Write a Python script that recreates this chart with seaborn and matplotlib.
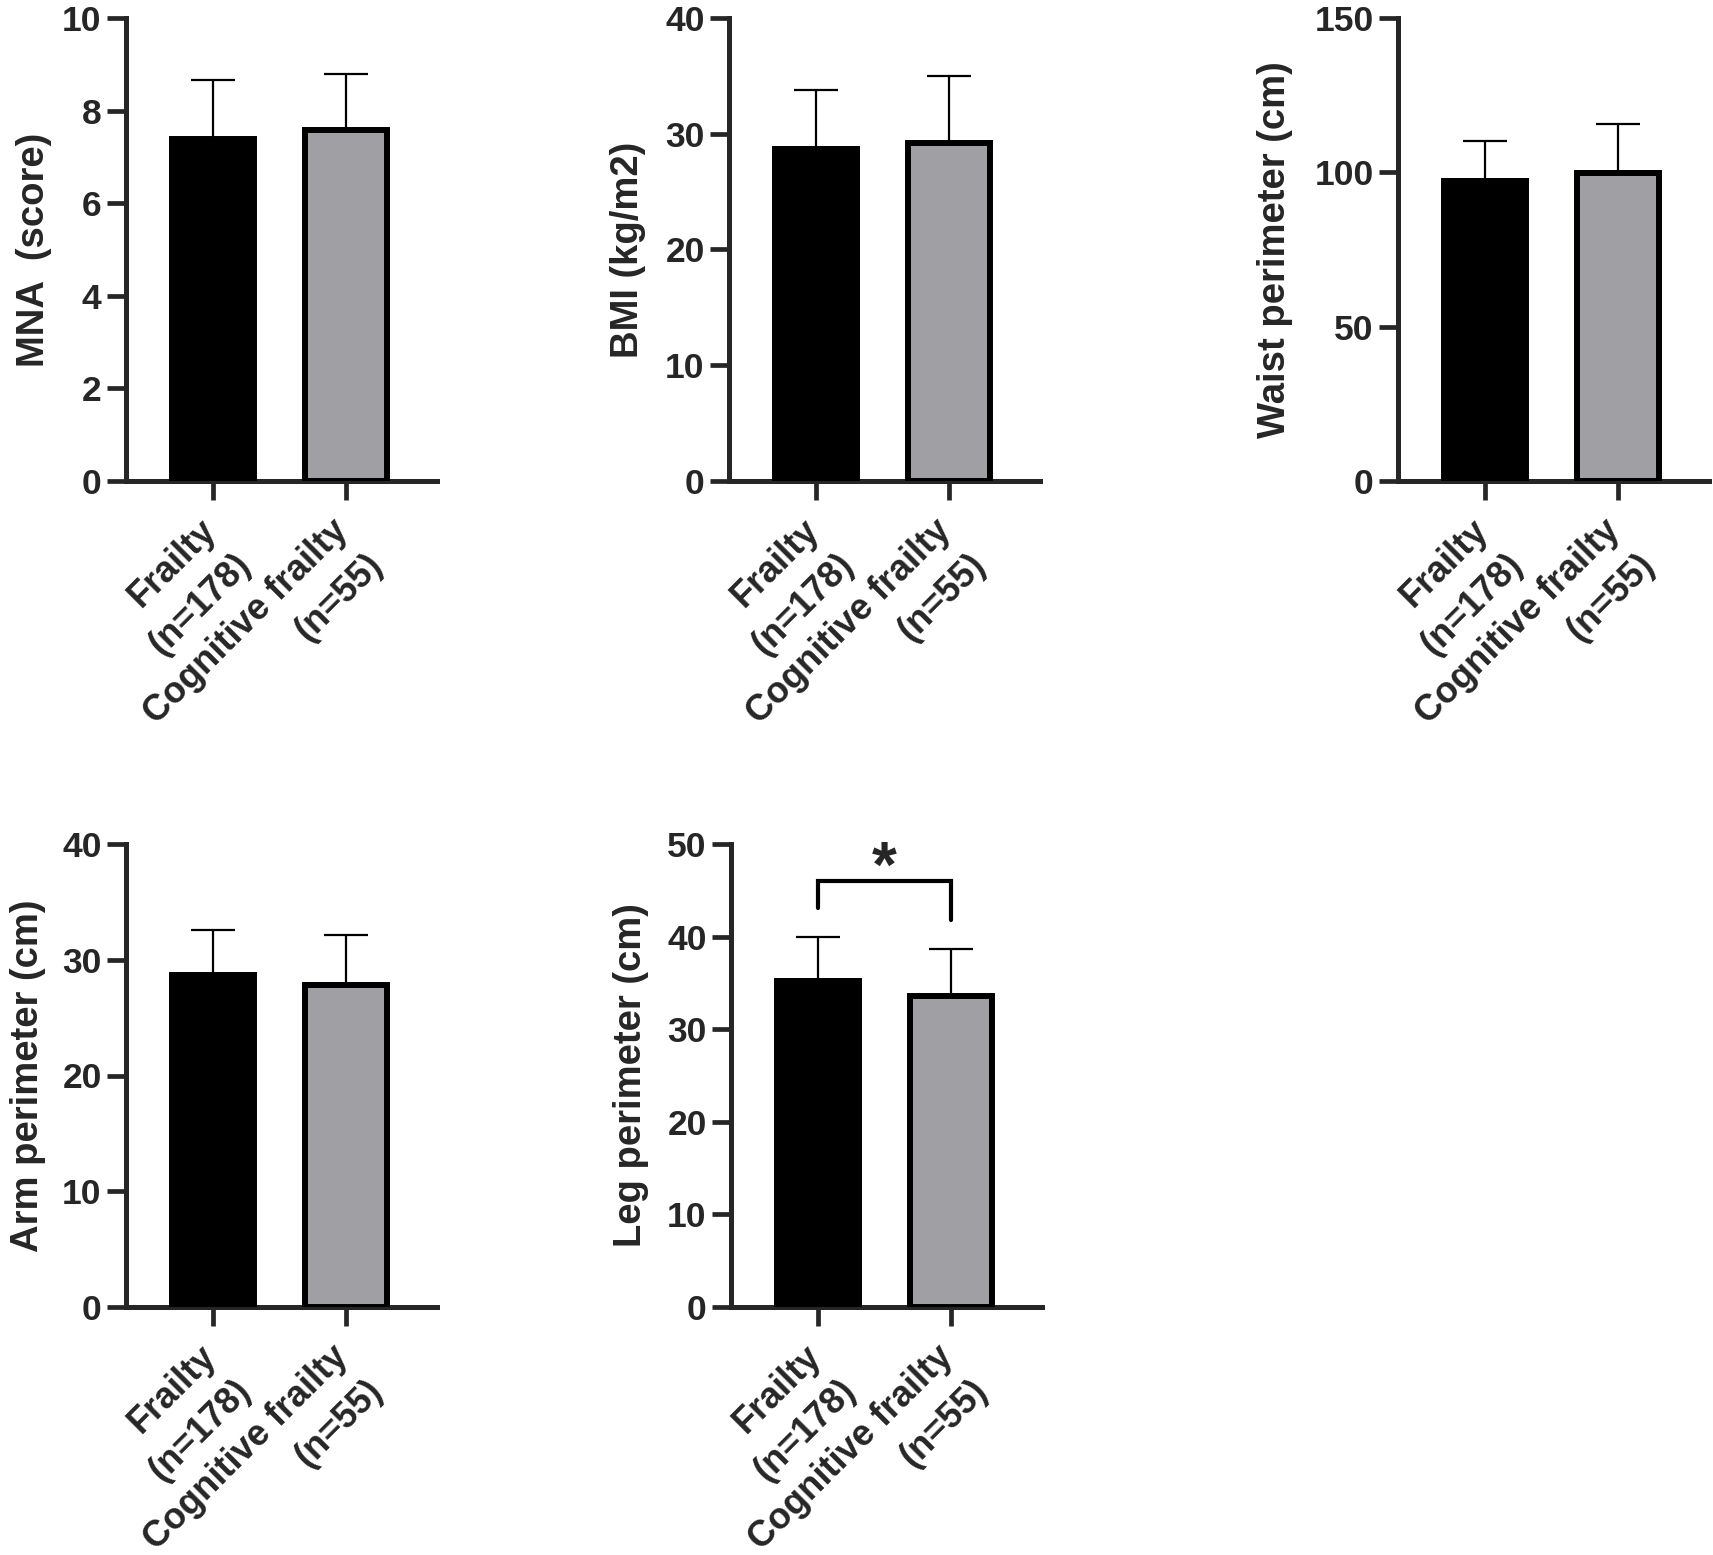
import numpy as np
import pandas as pd
import matplotlib
matplotlib.use("Agg")
import matplotlib.pyplot as plt
import matplotlib.transforms as mtransforms
import seaborn as sns

# groups (x categories)
groups = ["Frailty\n(n=178)", "Cognitive frailty\n(n=55)"]
bar_colors = ["#000000", "#A0A0A4"]

# mean and SD per variable
mna_mean = [7.38, 7.59]
mna_sd = [1.29, 1.21]
bmi_mean = [28.7, 29.2]
bmi_sd = [5.1, 5.8]
waist_mean = [97.2, 99.9]
waist_sd = [13.1, 15.6]
arm_mean = [28.7, 27.8]
arm_sd = [3.9, 4.3]
leg_mean = [35.2, 33.6]
leg_sd = [4.8, 5.1]

ylabels = ["MNA  (score)", "BMI (kg/m2)", "Waist perimeter (cm)",
           "Arm perimeter (cm)", "Leg perimeter (cm)"]
ymax = [10, 40, 150, 40, 50]
ystep = [2, 10, 50, 10, 10]

sns.set_style("ticks")
plt.rcParams["font.family"] = ["Liberation Sans", "DejaVu Sans"]
plt.rcParams["font.weight"] = "bold"
plt.rcParams["axes.labelweight"] = "bold"

W, H = 1713, 1555
fig = plt.figure(figsize=(W / 100, H / 100), dpi=100)

# axes rectangles in pixels: left, zero-line y, width, height
rects = [(126, 481, 311, 463), (729, 481, 311, 463), (1398, 481, 311, 463),
         (126, 1307, 311, 463), (731, 1307, 311, 463)]
label_off = [-92, -101, -123, -98, -100]

means = [mna_mean, bmi_mean, waist_mean, arm_mean, leg_mean]
sds = [mna_sd, bmi_sd, waist_sd, arm_sd, leg_sd]

axes = []
for i in range(5):
    l, b, w, h = rects[i]
    ax = fig.add_axes([l / W, 1 - b / H, w / W, h / H])
    axes.append(ax)
    df = pd.DataFrame({"group": groups, "value": means[i]})
    sns.barplot(data=df, x="group", y="value", hue="group", palette=bar_colors,
                width=0.62, edgecolor="black", linewidth=4.3, errorbar=None,
                legend=False, ax=ax, zorder=3)
    ax.errorbar(np.arange(2), means[i], yerr=[np.zeros(2), sds[i]], fmt="none",
                ecolor="black", elinewidth=1.6, capsize=15.5, capthick=1.6, zorder=2)
    ax.set_xlim(-0.66, 1.69)
    ax.set_ylim(0, ymax[i])
    ax.set_yticks(np.arange(0, ymax[i] + ystep[i] / 2, ystep[i]))
    ax.set_xlabel("")
    ax.set_ylabel(ylabels[i], fontsize=27.5, fontweight="bold", va="center")
    ax.yaxis.set_label_coords(label_off[i] / w, 0.5)
    for s in ["top", "right"]:
        ax.spines[s].set_visible(False)
    for s in ["left", "bottom"]:
        ax.spines[s].set_linewidth(3.6)
    ax.tick_params(axis="y", length=14, width=3.4, labelsize=25.5, pad=3.5)
    ax.tick_params(axis="x", length=14, width=3.4, labelsize=26, pad=9)
    plt.setp(ax.get_xticklabels(), rotation=45, ha="right", va="top",
             rotation_mode="anchor", multialignment="right", fontweight="bold",
             linespacing=1.5)
    plt.setp(ax.get_yticklabels(), fontweight="bold")
    off = mtransforms.ScaledTranslation(-0.15, 0, fig.dpi_scale_trans)
    for lab in ax.get_xticklabels():
        lab.set_transform(lab.get_transform() + off)

# significance bracket on leg perimeter
ax = axes[4]
ax.plot([0, 0, 1, 1], [43.1, 46, 46, 41.8], color="black", lw=3, solid_joinstyle="miter",
        clip_on=False)
ax.text(0.5, 45.35, "*", ha="center", va="baseline", fontsize=46, fontweight="bold")

fig.savefig("out.png", dpi=100)
